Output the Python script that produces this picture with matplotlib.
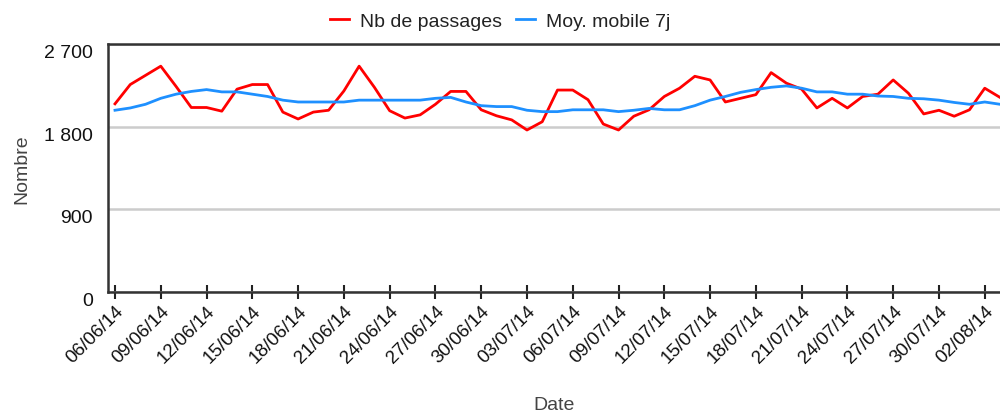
import numpy as np
import pandas as pd
import matplotlib
matplotlib.use("Agg")
import matplotlib.pyplot as plt
import matplotlib.dates as mdates
from matplotlib.ticker import FuncFormatter

plt.rcParams["font.family"] = ["Liberation Sans", "DejaVu Sans"]

dates = pd.date_range("2014-06-06", "2014-08-03", freq="D")

passages = [2050, 2260, 2360, 2460, 2240, 2010, 2010, 1970, 2210, 2260,
            2260, 1960, 1885, 1960, 1980, 2190, 2460, 2230, 1975, 1895,
            1930, 2045, 2185, 2185, 1985, 1920, 1875, 1765, 1855, 2200,
            2200, 2095, 1830, 1765, 1915, 1985, 2130, 2220, 2350, 2310,
            2070, 2110, 2150, 2390, 2275, 2210, 2005, 2110, 2005, 2130,
            2155, 2310, 2165, 1940, 1980, 1915, 1985, 2220, 2120]

moy_mobile = [1980, 2005, 2045, 2110, 2155, 2185, 2205, 2180, 2180, 2155,
              2130, 2090, 2070, 2070, 2070, 2070, 2090, 2090, 2090, 2090,
              2090, 2110, 2120, 2070, 2030, 2020, 2020, 1980, 1965, 1965,
              1985, 1985, 1985, 1965, 1980, 2000, 1985, 1985, 2030, 2090,
              2130, 2175, 2205, 2230, 2245, 2220, 2180, 2180, 2155, 2155,
              2135, 2130, 2110, 2105, 2090, 2065, 2045, 2070, 2045]

y_ticks = [0, 900, 1800, 2700]

fig = plt.figure(figsize=(10, 4.14), dpi=100)
ax = fig.add_axes([0.108, 0.292, 0.892, 0.599])

ax.plot(dates, passages, color="#ff0000", lw=2, label="Nb de passages")
ax.plot(dates, moy_mobile, color="#1e90ff", lw=2, label="Moy. mobile 7j")

ax.set_ylim(0, 2700)
ax.set_xlim(dates[0] - pd.Timedelta(hours=11), dates[-1])
ax.set_yticks(y_ticks)
ax.yaxis.set_major_formatter(FuncFormatter(lambda v, p: f"{int(v):,}".replace(",", " ")))
ax.tick_params(axis="y", length=0, labelsize=14, pad=11, labelcolor="#111111")
for lab in ax.get_yticklabels():
    lab.set_va("top")
ax.grid(axis="y", color="#cccccc", lw=1.8)
ax.set_axisbelow(True)

ax.xaxis.set_major_locator(mdates.DayLocator(interval=3))
ax.xaxis.set_major_formatter(mdates.DateFormatter("%d/%m/%y"))
ax.tick_params(axis="x", direction="inout", length=10, width=1.5, labelsize=13.5,
               color="#222222", labelcolor="#111111", pad=2)
for lab in ax.get_xticklabels():
    lab.set_rotation(45)
    lab.set_ha("right")
    lab.set_rotation_mode("anchor")

for side in ["left", "top", "bottom"]:
    ax.spines[side].set_color("#333333")
    ax.spines[side].set_linewidth(1.8)
ax.spines["right"].set_visible(False)

ax.set_xlabel("Date", fontsize=14, color="#444444", labelpad=22)
ax.set_ylabel("Nombre", fontsize=14, color="#444444", labelpad=10)

fig.legend(loc="upper center", bbox_to_anchor=(0.5, 1.01), ncol=2, frameon=False,
           fontsize=14, handlelength=1.0, columnspacing=0.7, handletextpad=0.55,
           labelcolor="#222222")

fig.savefig("out.png", dpi=100)
